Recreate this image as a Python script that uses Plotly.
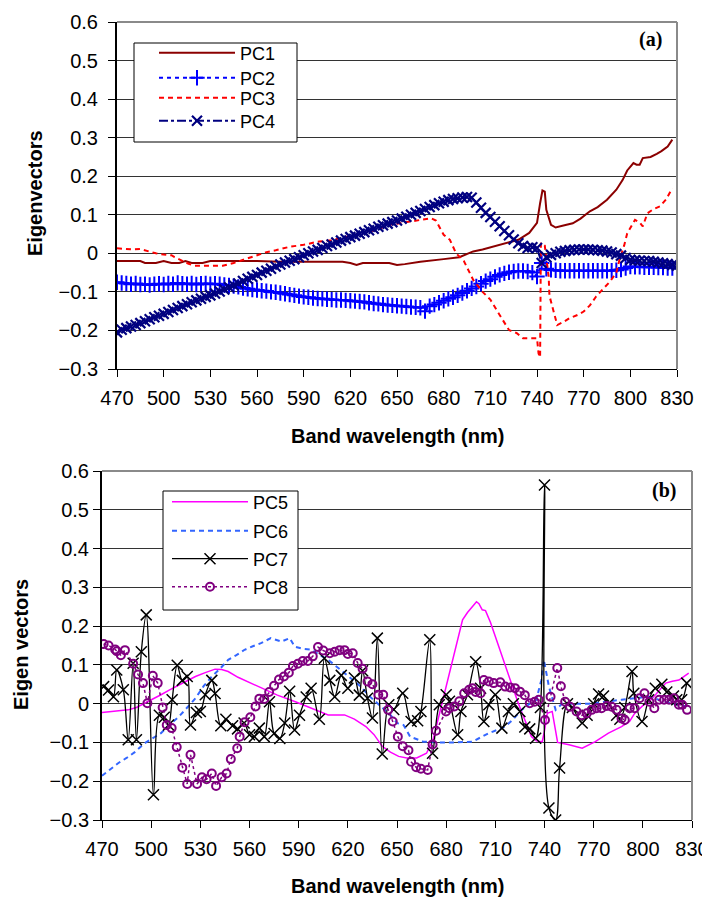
import plotly.graph_objects as go

# The page body adds an 8px margin, so the figure is positioned to compensate.
OFF = 8
W, H = 702, 892

# ---------------- Panel (a) data ----------------
wl_grid = list(range(470, 831, 3))  # band grid used by the marker series

pc2 = [-0.075, -0.077, -0.078, -0.080, -0.078, -0.081, -0.080, -0.082, -0.080, -0.079,
       -0.081, -0.078, -0.080, -0.077, -0.079, -0.080, -0.078, -0.081, -0.079, -0.078,
       -0.080, -0.079, -0.080, -0.082, -0.083, -0.085, -0.087, -0.090, -0.092, -0.094,
       -0.095, -0.097, -0.098, -0.100, -0.101, -0.103, -0.105, -0.107, -0.109, -0.111,
       -0.113, -0.114, -0.116, -0.117, -0.118, -0.119, -0.120, -0.121, -0.121, -0.122,
       -0.123, -0.124, -0.125, -0.126, -0.128, -0.130, -0.131, -0.133, -0.134, -0.135,
       -0.136, -0.137, -0.138, -0.139, -0.140, -0.141, -0.150, -0.137, -0.133, -0.128,
       -0.123, -0.118, -0.114, -0.109, -0.103, -0.097, -0.091, -0.086, -0.079, -0.072,
       -0.067, -0.061, -0.056, -0.052, -0.049, -0.047, -0.046, -0.046, -0.047, -0.050,
       -0.060, -0.025, -0.040, -0.043, -0.044, -0.045, -0.045, -0.045, -0.045, -0.045,
       -0.045, -0.045, -0.045, -0.045, -0.045, -0.045, -0.045, -0.044, -0.042, -0.038,
       -0.034, -0.035, -0.035, -0.036, -0.036, -0.036, -0.037, -0.037, -0.038, -0.038,
       -0.039]

pc4 = [-0.205, -0.198, -0.194, -0.190, -0.186, -0.181, -0.176, -0.171, -0.166, -0.162,
       -0.157, -0.152, -0.147, -0.142, -0.137, -0.132, -0.127, -0.122, -0.118, -0.113,
       -0.109, -0.104, -0.099, -0.094, -0.088, -0.083, -0.078, -0.072, -0.066, -0.061,
       -0.056, -0.050, -0.045, -0.040, -0.034, -0.029, -0.024, -0.019, -0.015, -0.010,
       -0.005, 0.000, 0.005, 0.009, 0.014, 0.019, 0.023, 0.028, 0.033, 0.037,
       0.042, 0.046, 0.051, 0.055, 0.060, 0.064, 0.069, 0.073, 0.077, 0.081,
       0.085, 0.090, 0.095, 0.100, 0.105, 0.110, 0.115, 0.120, 0.125, 0.130,
       0.134, 0.138, 0.141, 0.143, 0.145, 0.146, 0.144, 0.132, 0.118, 0.105,
       0.094, 0.082, 0.070, 0.058, 0.047, 0.036, 0.026, 0.019, 0.014, 0.016,
       0.014, -0.025, -0.010, -0.004, 0.000, 0.004, 0.006, 0.008, 0.009, 0.010,
       0.010, 0.010, 0.009, 0.008, 0.007, 0.005, 0.002, -0.002, -0.006, -0.012,
       -0.017, -0.018, -0.019, -0.020, -0.020, -0.022, -0.024, -0.026, -0.028, -0.030,
       -0.032]

pc1_wl = [470, 485, 488, 495, 500, 505, 510, 514, 518, 525, 530, 560, 575, 600, 615, 620,
          624, 628, 645, 650, 655, 665, 671, 680, 690, 699, 705, 712, 720, 728, 735, 740,
          742, 743.5, 745, 746, 749, 752, 757, 763, 768, 774, 779, 785, 791, 795, 798, 802,
          804, 806, 808, 813, 817, 820, 824, 827]
pc1 = [-0.020, -0.020, -0.025, -0.025, -0.020, -0.025, -0.025, -0.020, -0.025, -0.025,
       -0.020, -0.020, -0.022, -0.022, -0.022, -0.025, -0.030, -0.025, -0.025, -0.030,
       -0.028, -0.022, -0.020, -0.015, -0.010, 0.005, 0.010, 0.018, 0.027, 0.035,
       0.053, 0.079, 0.130, 0.163, 0.160, 0.113, 0.074, 0.067, 0.072, 0.078,
       0.090, 0.109, 0.120, 0.139, 0.165, 0.190, 0.215, 0.234, 0.230, 0.230,
       0.247, 0.250, 0.258, 0.265, 0.277, 0.295]

pc3_wl = [470, 475, 480, 485, 490, 495, 500, 505, 507, 512, 516, 520, 530, 538, 545, 552,
          560, 566, 572, 581, 590, 600, 607, 615, 625, 637, 645, 655, 665, 672, 675, 680,
          684, 688, 693, 699, 705, 710, 716, 722, 727, 731, 740, 741, 742, 742.5, 745,
          747.5, 748, 753, 757, 761, 766, 770, 774, 778, 783, 787, 791, 793, 796, 798, 803,
          806, 808, 811, 815, 819, 823, 827]
pc3 = [0.013, 0.012, 0.010, 0.011, 0.005, 0.000, -0.003, -0.005, -0.010, -0.020,
       -0.027, -0.032, -0.032, -0.032, -0.025, -0.015, -0.005, 0.003, 0.008, 0.017,
       0.022, 0.031, 0.033, 0.040, 0.050, 0.061, 0.074, 0.080, 0.087, 0.091,
       0.085, 0.048, 0.035, 0.000, -0.020, -0.069, -0.100, -0.120, -0.160, -0.199,
       -0.207, -0.220, -0.220, -0.260, -0.270, 0.027, 0.020, -0.060, -0.110, -0.186,
       -0.178, -0.168, -0.160, -0.151, -0.135, -0.112, -0.090, -0.073, -0.050, -0.017,
       0.020, 0.052, 0.087, 0.080, 0.070, 0.104, 0.115, 0.122, 0.140, 0.169]

# ---------------- Panel (b) data ----------------
pc5_wl = [470, 478, 486, 491, 496, 501, 506, 511, 517, 522, 527, 533, 539, 543, 547, 553,
          560, 567, 577, 588, 598, 608, 618, 624, 631, 636, 641, 646, 651, 656, 662, 668,
          672, 676, 679, 682, 686, 690, 693, 696, 698.5, 700, 702, 704, 707, 710, 713, 716,
          720, 724, 728, 732, 735, 738.6, 740, 741.7, 744.7, 746.5, 748, 755, 763, 771, 779,
          787, 792, 795, 800, 805, 810, 814, 818, 822, 825, 828]
pc5 = [-0.023, -0.020, -0.016, -0.010, 0.001, 0.010, 0.023, 0.035, 0.048, 0.060,
       0.070, 0.080, 0.089, 0.088, 0.083, 0.068, 0.055, 0.040, 0.022, 0.005,
       -0.012, -0.029, -0.029, -0.040, -0.059, -0.080, -0.110, -0.125, -0.136, -0.140,
       -0.140, -0.128, -0.093, -0.025, 0.030, 0.080, 0.150, 0.216, 0.235, 0.250,
       0.263, 0.258, 0.242, 0.240, 0.210, 0.173, 0.135, 0.096, 0.050, 0.001,
       -0.040, -0.085, -0.096, -0.098, -0.070, -0.025, -0.020, -0.060, -0.100, -0.106,
       -0.115, -0.098, -0.076, -0.059, -0.045, -0.025, -0.005, 0.010, 0.035, 0.053,
       0.058, 0.061, 0.070, 0.079]

pc6_wl = [470, 475, 480, 485, 490, 496, 501, 506, 511, 517, 522, 527, 532, 537, 542, 547,
          552, 557, 562, 567, 573, 576, 579.5, 584.5, 587.6, 592, 598, 603, 608, 613, 618,
          623, 628, 633, 638, 642, 646, 650, 654, 658, 662, 666, 676, 686, 696, 701, 706,
          711, 716, 721, 726, 731, 735, 738, 739.6, 742.7, 746.8, 750.8, 767, 787, 803.5,
          817.7, 827]
pc6 = [-0.186, -0.170, -0.153, -0.140, -0.125, -0.102, -0.090, -0.076, -0.055, -0.033,
       -0.010, 0.014, 0.045, 0.070, 0.090, 0.113, 0.125, 0.139, 0.148, 0.156,
       0.169, 0.165, 0.160, 0.169, 0.147, 0.142, 0.139, 0.125, 0.113, 0.096,
       0.079, 0.060, 0.044, 0.020, 0.001, -0.015, -0.029, -0.050, -0.055, -0.085,
       -0.092, -0.098, -0.100, -0.100, -0.098, -0.087, -0.076, -0.068, -0.059, -0.040,
       -0.016, 0.000, 0.010, 0.060, 0.113, 0.044, -0.016, 0.000, 0.000, 0.010,
       0.018, 0.000, -0.007]

pc7_wl = [471, 474, 477, 479, 483, 486, 489, 491, 494, 497, 501.4, 505, 508, 510.6, 512.8,
          515.9, 519, 522, 524, 527.6, 530, 533, 537, 539, 542.5, 545.6, 549.7, 552.7, 556.7,
          560, 563, 566, 569, 572.2, 575, 578.5, 581.5, 584.5, 587.5, 590.5, 594.6, 597.6,
          602.6, 605.7, 609, 612, 616, 620, 624, 627, 629, 632, 635, 638, 641, 645, 648,
          653.5, 658.6, 662.6, 664.6, 670, 671.7, 675.8, 680, 682, 687, 689, 693, 698, 701,
          703, 706, 710, 714, 718, 721, 725, 728, 731, 734.6, 737.5, 740, 742.7, 746.8,
          749.2, 754, 757, 763, 766, 770, 773, 776, 779, 784, 786, 789, 793.4, 794.5, 799.5,
          803.5, 807.6, 811.6, 814.6, 818.7, 820.7, 823.7, 826.8]
pc7 = [0.044, 0.035, 0.018, 0.087, 0.036, -0.093, 0.104, -0.093, 0.134, 0.229,
       -0.235, -0.030, -0.035, -0.055, 0.010, 0.099, 0.060, 0.070, -0.055, -0.023,
       -0.020, 0.023, 0.060, 0.026, -0.057, -0.040, -0.057, -0.065, -0.050, -0.080,
       -0.085, -0.063, -0.085, 0.005, -0.077, -0.090, -0.050, 0.032, -0.068, -0.030,
       0.017, 0.040, -0.040, 0.117, 0.060, 0.018, 0.073, 0.040, 0.066, 0.022,
       0.085, 0.014, -0.037, 0.169, -0.130, -0.003, -0.015, 0.027, -0.046, -0.044,
       -0.020, 0.165, -0.128, -0.003, 0.023, 0.006, -0.080, -0.020, 0.023, 0.108,
       0.040, -0.046, -0.003, 0.023, -0.063, -0.020, 0.000, -0.020, -0.060, -0.065,
       -0.089, -0.010, 0.564, -0.269, -0.300, -0.166, 0.000, -0.010, -0.050, -0.030,
       0.000, 0.025, 0.020, 0.000, -0.030, -0.040, -0.010, 0.083, 0.027, -0.046,
       0.010, 0.040, 0.050, 0.030, 0.020, 0.010, 0.010, 0.053]

pc8_wl = [471, 474, 478, 479, 481.5, 484, 489, 492, 495, 497.7, 501, 504, 507, 509.5, 512.5,
          515.6, 519, 522, 524, 528, 531, 533.8, 537, 539.6, 543, 546, 548.6, 552.5, 554,
          557, 560.5, 563.7, 566, 569, 572, 575, 578, 581, 584, 586.5, 589.5, 592.5, 595.6,
          598.6, 601.8, 605, 609, 612, 615, 618, 620, 623, 626, 629, 632, 635, 638.6, 641.6,
          644.6, 647.4, 650.5, 653.5, 657, 658.6, 661.7, 664.6, 668.7, 671.7, 673.8, 679.9,
          682, 685, 688, 691, 694, 696, 698, 701, 703, 706, 709, 713, 716, 719, 722, 725,
          728, 731, 734, 736.5, 740.3, 743.7, 747.8, 750, 752.6, 755.6, 759.6, 762.7, 765.8,
          768.8, 771.8, 774.8, 778, 781, 784, 787, 789, 792, 795, 798, 801, 804, 807, 810,
          813, 816, 819, 822, 824, 827]
pc8 = [0.154, 0.150, 0.140, 0.135, 0.125, 0.138, 0.103, 0.075, 0.053, 0.001,
       0.072, 0.053, -0.010, -0.055, -0.063, -0.112, -0.165, -0.207, -0.132, -0.207,
       -0.190, -0.195, -0.180, -0.212, -0.190, -0.180, -0.143, -0.115, -0.085, -0.048,
       -0.035, -0.007, 0.013, 0.012, 0.030, 0.046, 0.062, 0.070, 0.080, 0.097,
       0.103, 0.110, 0.110, 0.122, 0.146, 0.137, 0.130, 0.134, 0.138, 0.138,
       0.128, 0.130, 0.105, 0.090, 0.057, 0.050, 0.023, 0.023, -0.016, -0.046,
       -0.085, -0.110, -0.120, -0.150, -0.164, -0.168, -0.171, -0.105, -0.070, -0.020,
       -0.012, -0.007, 0.006, 0.027, 0.036, 0.040, 0.030, 0.027, 0.061, 0.057,
       0.053, 0.055, 0.044, 0.042, 0.040, 0.031, 0.022, 0.001, 0.005, 0.010,
       -0.042, 0.018, 0.092, 0.045, 0.005, -0.008, -0.020, -0.030, -0.025, -0.016,
       -0.012, -0.012, -0.006, -0.008, -0.016, -0.038, -0.042, -0.012, -0.012, 0.014,
       0.027, 0.005, -0.012, 0.010, 0.010, 0.010, 0.014, -0.003, -0.003, -0.016]

x_ticks = [470, 500, 530, 560, 590, 620, 650, 680, 710, 740, 770, 800, 830]

# ---------------- geometry (window pixels) ----------------
A = dict(l=117, r=677, t=22, b=369)
B = dict(l=102, r=692, t=471, b=820)

def px(x):
    return (x - OFF) / W

def py(y):
    return 1 - (y - OFF) / H

FONT = "Arial, Liberation Sans, sans-serif"

fig = go.Figure()

def add(x, y, name, color, dash, width, xa, ya, leg, marker=None, shape="linear"):
    kw = dict(x=x, y=y, name=name, xaxis=xa, yaxis=ya, legend=leg,
              line=dict(color=color, dash=dash, width=width, shape=shape))
    if marker is None:
        kw["mode"] = "lines"
    else:
        kw["mode"] = "lines+markers"
        kw["marker"] = marker
    fig.add_trace(go.Scatter(**kw))

add(pc1_wl, pc1, "PC1", "#8B0000", "solid", 2, "x", "y", "legend")
add(wl_grid, pc2, "PC2", "#0000FF", "4px,4px", 2, "x", "y", "legend2",
    marker=dict(symbol="cross-thin", size=11, color="#0000FF",
                line=dict(width=2, color="#0000FF")))
add(pc3_wl, pc3, "PC3", "#FF0000", "5px,4px", 2, "x", "y", "legend3")
add(wl_grid, pc4, "PC4", "#000080", "dashdot", 2, "x", "y", "legend4",
    marker=dict(symbol="x-thin", size=10, color="#000080",
                line=dict(width=2.2, color="#000080")))

add(pc5_wl, pc5, "PC5", "#FF00FF", "solid", 1.5, "x2", "y2", "legend5")
add(pc6_wl, pc6, "PC6", "#3366FF", "5px,4px", 2, "x2", "y2", "legend6")
add(pc7_wl, pc7, "PC7", "#000000", "solid", 1.3, "x2", "y2", "legend7",
    marker=dict(symbol="x-thin", size=11, color="#000000",
                line=dict(width=1.5, color="#000000")), shape="spline")
add(pc8_wl, pc8, "PC8", "#800080", "dot", 1.5, "x2", "y2", "legend8",
    marker=dict(symbol="circle-open", size=8, color="#800080",
                line=dict(width=2, color="#800080")))

def xaxis(dom, anchor):
    return dict(domain=dom, anchor=anchor, range=[470, 830], tickmode="array",
                tickvals=x_ticks, ticks="outside", ticklen=7, tickcolor="black",
                showline=True, linecolor="black", linewidth=1, showgrid=False,
                zeroline=False, automargin=False,
                tickfont=dict(family=FONT, size=20, color="black"),
                ticklabelstandoff=4)

def yaxis(dom, anchor, standoff):
    return dict(domain=dom, anchor=anchor, range=[-0.3, 0.6], dtick=0.1, tick0=0,
                ticks="outside", ticklen=7, tickcolor="black", showline=True,
                linecolor="black", linewidth=2, showgrid=True, gridcolor="#333333",
                gridwidth=1, zeroline=False, automargin=False,
                tickfont=dict(family=FONT, size=20, color="black"),
                ticklabelstandoff=standoff)

shapes = []
for P in (A, B):
    shapes.append(dict(type="line", xref="paper", yref="paper", x0=px(P["l"]), x1=px(P["r"]),
                       y0=py(P["t"]), y1=py(P["t"]), line=dict(color="#8a8a8a", width=2)))
    shapes.append(dict(type="line", xref="paper", yref="paper", x0=px(P["r"]), x1=px(P["r"]),
                       y0=py(P["t"]), y1=py(P["b"]), line=dict(color="#8a8a8a", width=2)))
# legend boxes
shapes.append(dict(type="rect", xref="paper", yref="paper", x0=px(134), x1=px(297),
                   y0=py(142), y1=py(43), fillcolor="white", line=dict(color="black", width=1),
                   layer="above"))
shapes.append(dict(type="rect", xref="paper", yref="paper", x0=px(163), x1=px(298),
                   y0=py(610), y1=py(491), fillcolor="white", line=dict(color="black", width=1),
                   layer="above"))

def ann(text, x, y, size, angle=0, family=FONT, xanchor="center"):
    return dict(text=text, x=px(x), y=py(y), xref="paper", yref="paper", showarrow=False,
                xanchor=xanchor, yanchor="middle", textangle=angle,
                font=dict(family=family, size=size, color="black"))

annotations = [
    ann("<b>Band wavelength (nm)</b>", 397, 436, 20),
    ann("<b>Band wavelength (nm)</b>", 397, 886, 20),
    ann("<b>Eigenvectors</b>", 35, 193, 20, angle=-90),
    ann("<b>Eigen vectors</b>", 21, 645, 20, angle=-90),
    ann("<b>(a)</b>", 664, 40, 20, family="Liberation Serif, Times New Roman, serif",
        xanchor="right"),
    ann("<b>(b)</b>", 678, 490, 20, family="Liberation Serif, Times New Roman, serif",
        xanchor="right"),
]

def leg(xp, yp):
    return dict(x=px(xp), y=py(yp), bgcolor="rgba(0,0,0,0)", borderwidth=0,
                xanchor="left", yanchor="middle", itemwidth=76,
                font=dict(family=FONT, size=18, color="black"))

# one legend per entry so each entry can sit at its own row position
legend_rows = {"legend": (154, 53), "legend2": (154, 78), "legend3": (154, 98),
               "legend4": (154, 121),
               "legend5": (167, 502), "legend6": (167, 531), "legend7": (167, 559),
               "legend8": (167, 587)}

fig.update_layout(
    width=W, height=H, margin=dict(l=0, r=0, t=0, b=0),
    paper_bgcolor="white", plot_bgcolor="white",
    xaxis=xaxis([px(A["l"]), px(A["r"])], "y"),
    yaxis=yaxis([py(A["b"]), py(A["t"])], "x", 6),
    xaxis2=xaxis([px(B["l"]), px(B["r"])], "y2"),
    yaxis2=yaxis([py(B["b"]), py(B["t"])], "x2", 0),
    shapes=shapes, annotations=annotations, showlegend=True,
    **{k: leg(*v) for k, v in legend_rows.items()},
)

fig.write_html("out.html")
